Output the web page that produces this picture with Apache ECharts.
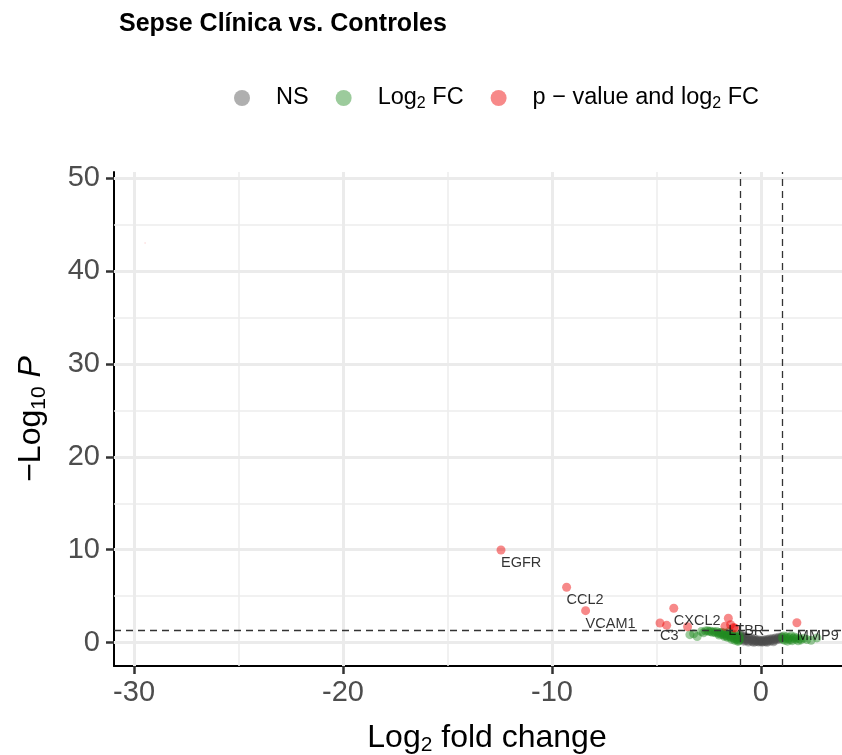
<!DOCTYPE html>
<html>
<head>
<meta charset="utf-8">
<script src="https://cdn.jsdelivr.net/npm/echarts@6/dist/echarts.min.js"></script>
<style>
html,body{margin:0;padding:0;background:#fff;overflow:hidden;}
#chart{width:842px;height:755px;}
</style>
</head>
<body>
<div id="chart"></div>
<script>
// ---- tick / grid values ----
const xTicks = [-30, -20, -10, 0];
const yTicks = [0, 10, 20, 30, 40, 50];
const xMinorGrid = [-25, -15, -5];
const yMinorGrid = [5, 15, 25, 35, 45];
const fcCutoffs = [-1, 1];
const pCutoff = 1.301;

// ---- NS (grey) ----
const nsX = [-0.98,-0.95,-0.92,-0.90,-0.87,-0.84,-0.80,-0.77,-0.74,-0.70,-0.66,-0.62,-0.58,-0.55,-0.50,-0.46,-0.42,-0.38,-0.34,-0.30,-0.26,-0.22,-0.18,-0.14,-0.10,-0.06,-0.02,0.02,0.06,0.10,0.14,0.18,0.22,0.27,0.31,0.36,0.40,0.45,0.50,0.55,0.60,0.65,0.70,0.75,0.80,0.85,0.90,0.95,0.99,-0.60,0.30,-0.35,0.60,-0.82];
const nsY = [0.82,0.60,0.45,0.72,0.30,0.55,0.40,0.66,0.22,0.50,0.35,0.58,0.18,0.42,0.28,0.48,0.12,0.33,0.20,0.40,0.08,0.25,0.15,0.30,0.05,0.18,0.10,0.22,0.04,0.14,0.26,0.08,0.18,0.32,0.12,0.24,0.38,0.16,0.30,0.44,0.22,0.36,0.50,0.28,0.42,0.58,0.34,0.48,0.62,0.05,0.02,0.02,0.08,0.15];

// ---- Log2 FC only (green) ----
const fcX = [-3.40,-3.05,-3.22,-2.65,-2.55,-2.48,-2.40,-2.33,-2.25,-2.18,-2.12,-2.05,-1.98,-1.92,-1.88,-1.82,-1.78,-1.72,-1.68,-1.62,-1.58,-1.55,-1.50,-1.46,-1.42,-1.38,-1.35,-1.30,-1.27,-1.22,-1.19,-1.15,-1.12,-1.08,-1.05,-1.03,-1.01,-2.75,-2.85,-2.00,-1.75,-1.60,-1.40,-1.25,-1.10,
  1.02,1.06,1.10,1.14,1.18,1.22,1.27,1.31,1.36,1.40,1.45,1.50,1.55,1.60,1.66,1.72,1.78,1.85,1.92,2.05,2.20,2.40,2.68];
const fcY = [0.85,0.65,0.95,1.25,1.28,1.18,1.22,1.10,1.15,1.05,1.20,0.98,1.08,0.92,1.12,0.85,1.02,0.78,0.95,0.70,0.88,1.15,0.62,0.80,0.55,0.95,0.72,0.48,0.66,0.40,0.85,0.58,0.30,0.50,0.22,0.75,0.38,1.05,1.18,0.80,0.65,0.55,0.35,0.25,0.12,
  0.55,0.35,0.70,0.25,0.48,0.62,0.15,0.40,0.55,0.30,0.72,0.20,0.45,0.60,0.35,0.50,0.18,0.40,0.28,0.45,0.32,0.25,0.50];

// ---- p-value and log2 FC (red) ----
const sigX = [-12.44,-9.30,-8.39,-4.17,-4.83,-4.51,-3.51,-1.56,-1.72,-1.45,-1.30,-1.25,1.72];
const sigY = [9.97,5.95,3.43,3.69,2.10,1.85,1.70,2.62,1.75,1.92,1.62,1.55,2.13];
const sigLabels = ['EGFR','CCL2','VCAM1','CXCL2','C3','','','LTBR','','','','','MMP9'];

// ---- extreme faint point ----
const faintX = [-29.47];
const faintY = [43.05];

const FONT = '"Liberation Sans", Arial, sans-serif';
const zip = (xs, ys) => xs.map((x, i) => [x, ys[i]]);

const gridLine = (axis, vals, w, c) => vals.map(v => ({ [axis]: v, lineStyle: { width: w, color: c, type: 'solid' } }));

const legendNames = {
  'NS': '{sp| }{a|NS}',
  'Log2 FC': '{sp| }{a|Log}{s|2}{a| FC}',
  'p-value and log2 FC': '{sp| }{a|p \u2212 value and log}{s|2}{a| FC}'
};

const chart = echarts.init(document.getElementById('chart'), null, { renderer: 'canvas' });
chart.setOption({
  animation: false,
  backgroundColor: '#fff',
  title: {
    text: 'Sepse Cl\u00ednica vs. Controles',
    left: 119, top: 12, padding: 0,
    textStyle: { fontFamily: FONT, fontWeight: 'bold', fontSize: 25, color: '#000' }
  },
  legend: {
    left: 234, top: 84, padding: 0,
    icon: 'circle', itemWidth: 16, itemHeight: 16, itemGap: 27,
    data: ['NS', 'Log2 FC', 'p-value and log2 FC'],
    formatter: n => legendNames[n],
    textStyle: {
      fontFamily: FONT, color: '#000',
      rich: {
        sp: { width: 21 },
        a: { fontSize: 23.5, fontFamily: FONT, color: '#000', lineHeight: 28 },
        s: { fontSize: 16, fontFamily: FONT, color: '#000', lineHeight: 16, padding: [12, 0, 0, 0] }
      }
    }
  },
  grid: { left: 114, right: 0, top: 172, bottom: 89, containLabel: false, outerBoundsMode: 'none' },
  xAxis: {
    type: 'value', min: -30.96, max: 3.88,
    axisLine: { show: true, onZero: false, lineStyle: { color: '#000', width: 2 } },
    axisTick: { show: true, customValues: xTicks, length: 8, lineStyle: { color: '#333', width: 2.5 } },
    axisLabel: { customValues: xTicks, fontFamily: FONT, fontSize: 29, color: '#4d4d4d', margin: 12 },
    splitLine: { show: false },
    name: '{a|Log}{s|2}{a| fold change}',
    nameLocation: 'middle', nameGap: 54,
    nameTextStyle: {
      padding: [0, 0, 0, 18],
      rich: {
        a: { fontSize: 32, fontFamily: FONT, color: '#000', lineHeight: 36 },
        s: { fontSize: 21, fontFamily: FONT, color: '#000', lineHeight: 21, padding: [15, 0, 0, 0] }
      }
    }
  },
  yAxis: {
    type: 'value', min: -2.53, max: 50.7,
    axisLine: { show: true, onZero: false, lineStyle: { color: '#000', width: 2 } },
    axisTick: { show: true, customValues: yTicks, length: 8, lineStyle: { color: '#333', width: 2.5 } },
    axisLabel: { customValues: yTicks, fontFamily: FONT, fontSize: 29, color: '#4d4d4d', margin: 14 },
    splitLine: { show: false },
    name: '{a|\u2212Log}{s|10}{a| }{i|P}',
    nameLocation: 'middle', nameGap: 64,
    nameTextStyle: {
      rich: {
        a: { fontSize: 32, fontFamily: FONT, color: '#000', lineHeight: 38 },
        s: { fontSize: 21, fontFamily: FONT, color: '#000', lineHeight: 21, padding: [17, 0, 0, 0] },
        i: { fontSize: 32, fontFamily: FONT, fontStyle: 'italic', color: '#000', lineHeight: 38 }
      }
    }
  },
  series: [
    {
      type: 'scatter', name: 'grid', data: [], z: 1, silent: true,
      markLine: {
        z: 1, silent: true, symbol: ['none', 'none'], label: { show: false }, animation: false,
        data: [].concat(
          gridLine('xAxis', xMinorGrid, 1.5, '#ededed'),
          gridLine('yAxis', yMinorGrid, 1.5, '#ededed'),
          gridLine('xAxis', xTicks, 3, '#ebebeb'),
          gridLine('yAxis', yTicks, 3, '#ebebeb')
        )
      }
    },
    {
      type: 'scatter', name: 'NS', z: 3, symbolSize: 9,
      itemStyle: { color: 'rgba(77,77,77,0.56)' },
      data: zip(nsX, nsY)
    },
    {
      type: 'scatter', name: 'Log2 FC', z: 3, symbolSize: 9,
      itemStyle: { color: 'rgba(34,139,34,0.56)' },
      data: zip(fcX, fcY)
    },
    {
      type: 'scatter', name: 'p-value and log2 FC', z: 3, symbolSize: 9,
      itemStyle: { color: 'rgba(238,0,0,0.58)' },
      label: {
        show: false, position: 'bottom', distance: 1, align: 'left', verticalAlign: 'top',
        fontFamily: FONT, fontSize: 14.5, color: '#000'
      },
      data: sigX.map((x, i) => ({
        value: [x, sigY[i]],
        label: { show: sigLabels[i] !== '', formatter: sigLabels[i] }
      }))
    },
    {
      type: 'scatter', name: 'faint', z: 3, symbolSize: 2,
      itemStyle: { color: 'rgba(238,0,0,0.12)' },
      data: zip(faintX, faintY)
    },
    {
      type: 'scatter', name: 'cutoffs', data: [], z: 5, silent: true,
      markLine: {
        z: 5, silent: true, symbol: ['none', 'none'], label: { show: false }, animation: false,
        lineStyle: { color: '#333', width: 1.3, type: [7, 5] },
        data: [{ xAxis: fcCutoffs[0] }, { xAxis: fcCutoffs[1] }, { yAxis: pCutoff }]
      }
    }
  ]
});
</script>
</body>
</html>
